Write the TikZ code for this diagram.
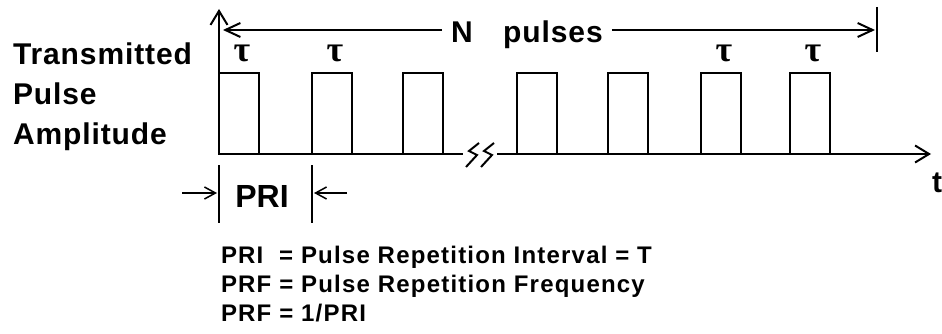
\documentclass[tikz,border=0pt]{standalone}
\usepackage{fontspec}
\setmainfont{Liberation Sans}
\newfontfamily\taufont{Liberation Serif}
\usepackage{tikz}
\usetikzlibrary{arrows.meta,positioning}

\begin{document}
\begin{tikzpicture}[x=1pt,y=-1pt,line width=2pt,
  lbl/.style={font=\fontsize{30}{40}\selectfont\bfseries\addfontfeature{LetterSpace=3},inner sep=0pt},
  deflbl/.style={font=\fontsize{24}{29}\selectfont\bfseries\addfontfeature{LetterSpace=5},inner sep=0pt},
  pulsebox/.style={draw,minimum width=40pt,minimum height=81pt,inner sep=0pt,outer sep=0pt,anchor=south west},
  tau/.style={font=\fontsize{36}{36}\selectfont\taufont\bfseries,inner sep=0pt},
  axarrow/.style={-{Straight Barb[length=14pt,width=17pt]}},
  spanarrow/.style={-{Straight Barb[length=15pt,width=14pt]}},
  priarrow/.style={line width=1.5pt,-{Straight Barb[length=11pt,width=12pt]}},
  tick/.style={line width=1.5pt}]
  \useasboundingbox (0,0) rectangle (942,334);
  \node[lbl,align=left,anchor=north west] (ylbl) at (12,41.5) {Transmitted\\Pulse\\Amplitude};
  \coordinate (orig) at (219,154);
  \coordinate (ytop) at (219,9);
  \coordinate (brkl) at (463,154);
  \coordinate (brkr) at (497,154);
  \coordinate (xtip) at (931,154);
  \draw[axarrow] (orig) -- (ytop);
  \draw (orig) -- (brkl);
  \draw[axarrow] (brkr) -- (xtip);
  \foreach \dx in {0,15}
    \draw[xshift=\dx,line join=miter] (479,143) -- (469,151) -- (477,155) -- (466,167);
  \foreach \x [count=\i] in {219,312,403,517,608,701,790}
    \node[pulsebox] (p\i) at (\x,154) {};
  \foreach \i in {1,2,6,7}
    \node[tau,above=10pt of p\i.north,xshift=3pt] (tau\i) {τ};
  \coordinate (ntipl) at (223,30);
  \coordinate (ntipr) at (875,30);
  \node[lbl,inner xsep=8pt,anchor=base] (nlbl) at (462,43) {N};
  \node[lbl,inner xsep=8pt,anchor=base] (pulseslbl) at (553,43) {pulses};
  \draw[spanarrow] (nlbl.west |- ntipl) -- (ntipl);
  \draw[spanarrow] (pulseslbl.east |- ntipr) -- (ntipr);
  \coordinate (nbartop) at (877,7);
  \coordinate (nbarbot) at (877,52);
  \draw[tick] (nbartop) -- (nbarbot);
  \node[lbl,anchor=base] (tlbl) at (937,192) {t};
  \coordinate (pri1a) at (219,165);
  \coordinate (pri1b) at (219,223);
  \coordinate (pri2a) at (312,165);
  \coordinate (pri2b) at (312,223);
  \draw[tick] (pri1a) -- (pri1b);
  \draw[tick] (pri2a) -- (pri2b);
  \coordinate (prila) at (182,193);
  \coordinate (prira) at (347,193);
  \draw[priarrow] (prila) -- ([xshift=-2pt]pri1a |- prila);
  \draw[priarrow] (prira) -- ([xshift=2pt]pri2a |- prira);
  \node[lbl,font=\fontsize{32}{32}\selectfont\bfseries,anchor=base] (prilbl) at (262,207) {PRI};
  \node[deflbl,align=left,anchor=north west] (defs) at (220,245.5)
    {PRI\ \ = Pulse Repetition Interval = T\\PRF = Pulse Repetition Frequency\\PRF = 1/PRI};
\end{tikzpicture}
\end{document}
